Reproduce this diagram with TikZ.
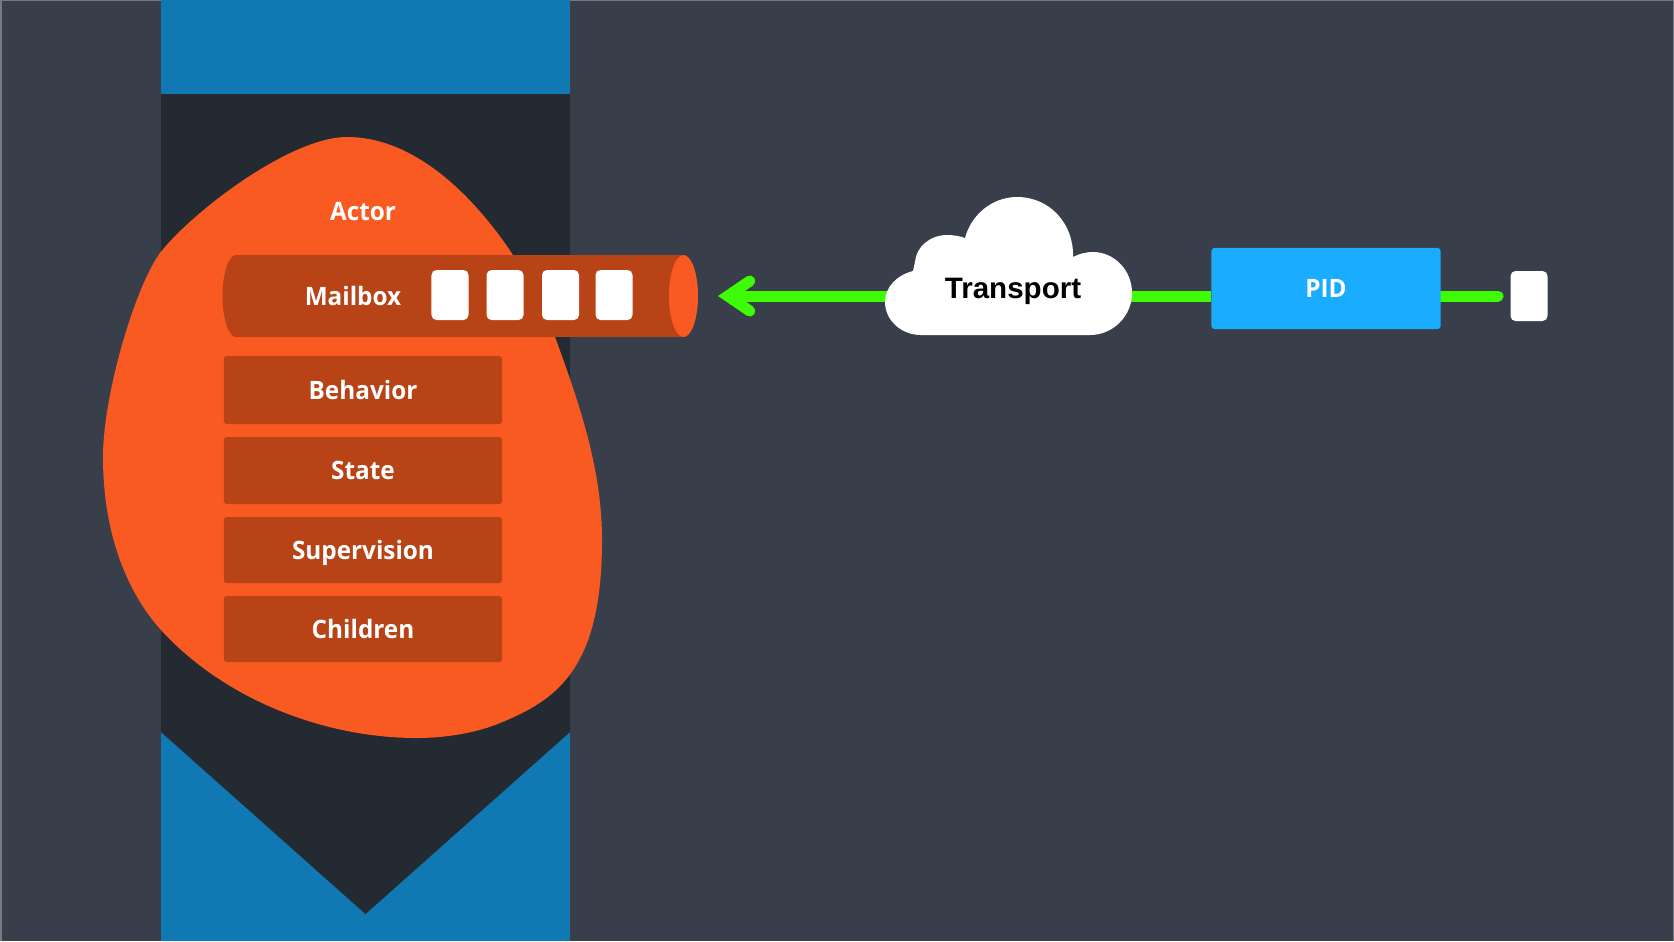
\documentclass[tikz,border=0pt]{standalone}
\usepackage{fontspec}
\usetikzlibrary{arrows.meta}
\setmainfont[FakeStretch=0.96]{Open Sans}
\newfontfamily\cloudfont{Liberation Sans}
\definecolor{edgegrey}{HTML}{767B83}
\definecolor{slatebg}{HTML}{393F4A}
\definecolor{laneblue}{HTML}{1078B3}
\definecolor{lanedark}{HTML}{242A31}
\definecolor{actororange}{HTML}{F85A22}
\definecolor{partbrown}{HTML}{B74317}
\definecolor{wiregreen}{HTML}{3EFC05}
\definecolor{pidblue}{HTML}{1AACFF}
\tikzset{
    part/.style={fill=partbrown,rounded corners=0.03cm,minimum width=2.78cm,inner sep=0pt,outer sep=0pt},
    label/.style={text=white,font=\bfseries\fontsize{7.2}{9}\selectfont,text height=5.2pt,text depth=0pt,inner sep=0pt},
    msg/.style={fill=white,rounded corners=0.05cm,minimum width=0.37cm,minimum height=0.5cm,inner sep=0pt,outer sep=0pt},
    wire/.style={draw=wiregreen,line width=0.11cm}
}
\begin{document}
\begin{tikzpicture}[x=0.01cm,y=-0.01cm]
    \useasboundingbox (0,0) rectangle (1674,941);
    \fill[edgegrey] (0,0) rectangle (1674,941);
    \fill[slatebg] (2,1) rectangle (1673,941);
    % lane
    \fill[laneblue] (161,0) rectangle (570,941);
    \fill[lanedark] (161,94) -- (570,94) -- (570,732) -- (365.5,914) -- (161,732) -- cycle;
    % actor
    \fill[actororange] (347,137) .. controls (290,137) and (192,212) .. (160,253)
        .. controls (135,287) and (103,395) .. (103,457)
        .. controls (103,530) and (125,590) .. (161,630)
        .. controls (225,700) and (325,738) .. (417,738)
        .. controls (445,738) and (476,733) .. (500,723)
        .. controls (556,700) and (602,670) .. (602,540)
        .. controls (602,470) and (580,405) .. (555,337)
        .. controls (540,295) and (525,275) .. (513,255)
        .. controls (480,205) and (420,137) .. (347,137) -- cycle;
    \node[label] (actor) at (363,211) {Actor};
    \node[part,minimum height=0.68cm] (behavior) at (363,390) {};
    \node[part,minimum height=0.67cm] (state) at (363,470.5) {};
    \node[part,minimum height=0.66cm] (supervision) at (363,550) {};
    \node[part,minimum height=0.66cm] (children) at (363,629) {};
    \node[label] at (behavior) {Behavior};
    \node[label] at (state) {State};
    \node[label] at (supervision) {Supervision};
    \node[label] at (children) {Children};
    % mailbox
    \fill[partbrown] (236,296) ellipse [x radius=13.5,y radius=41];
    \fill[partbrown] (236,255) rectangle (683.5,337);
    \fill[actororange] (683.5,296) ellipse [x radius=14.5,y radius=41];
    \node[label] (mailbox) at (353,296) {Mailbox};
    \node[msg] (msga) at (450,295) {};
    \node[msg] (msgb) at (505,295) {};
    \node[msg] (msgc) at (560.5,295) {};
    \node[msg] (msgd) at (614,295) {};
    % wire
    \coordinate (wirehead) at (718,296);
    \coordinate (wirein) at (1120,296);
    \coordinate (wireout) at (900,296);
    \coordinate (wiretail) at (1498,296);
    \coordinate (pidout) at (1430,296);
    \draw[wire,line cap=round] (wiretail) -- (pidout);
    \node[msg] (msge) at (1529,296) {};
    \node[fill=pidblue,rounded corners=0.03cm,minimum width=2.29cm,minimum height=0.81cm,inner sep=0pt,outer sep=0pt] (pid) at (1326,288.5) {};
    \node[label] at (pid) {PID};
    \draw[wire] (pid.west |- wiretail) -- (wirein);
    \draw[wire,-{Straight Barb[length=0.22cm,width=0.3cm,line cap=round,line join=miter]}] (wireout) -- (wirehead);
    % cloud
    \fill[white] (921,335) -- (1090,335)
        .. controls (1113,335) and (1132,316) .. (1132,293)
        .. controls (1132,270) and (1114,252) .. (1093,252)
        .. controls (1085,252) and (1079,254) .. (1073,257)
        .. controls (1074,224) and (1050,197) .. (1017,197)
        .. controls (992,197) and (971,215) .. (965,238)
        .. controls (960,236) and (953,235) .. (947,235)
        .. controls (930,235) and (916,247) .. (915,262)
        -- (913,271)
        .. controls (897,275) and (885,287) .. (885,302)
        .. controls (885,320) and (901,335) .. (921,335) -- cycle;
    \node[font=\cloudfont\bfseries\fontsize{8.4}{10}\selectfont,text height=6pt,text depth=0pt,inner sep=0pt] (transport) at (1013,288) {Transport};
\end{tikzpicture}
\end{document}
